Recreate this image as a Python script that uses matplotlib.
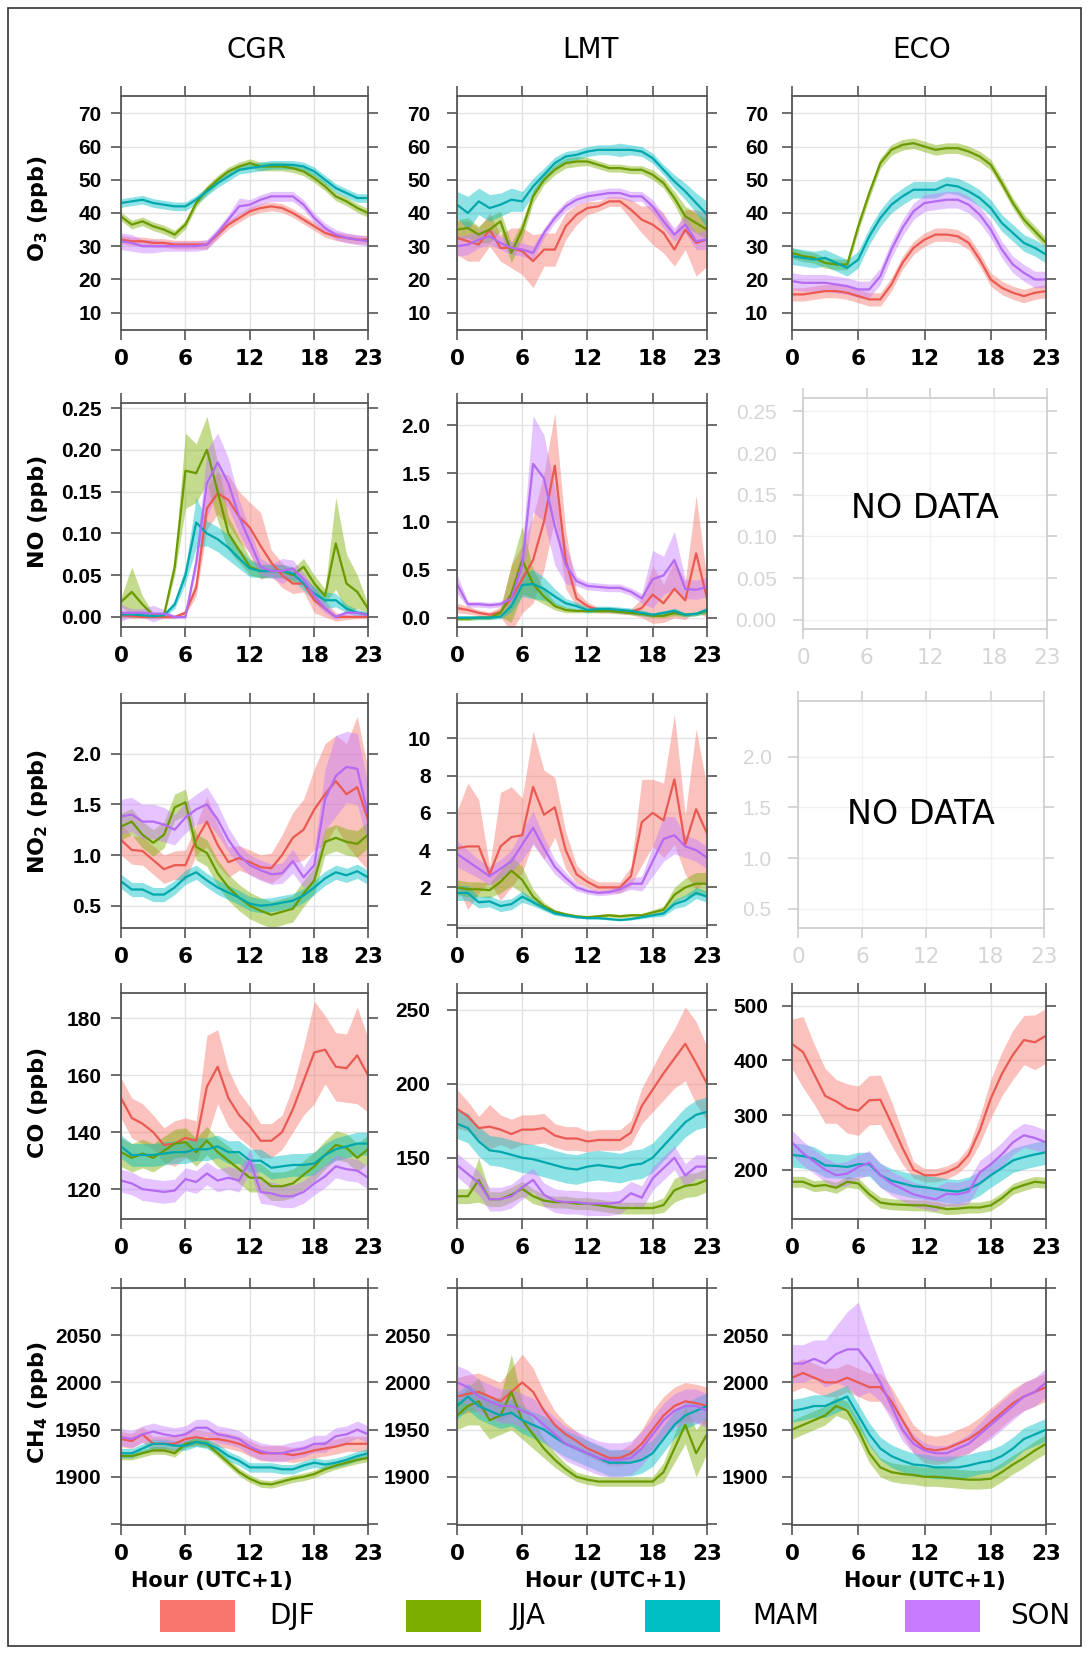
import numpy as np
import matplotlib
matplotlib.use('Agg')
import matplotlib.pyplot as plt
from matplotlib.patches import Rectangle

W, H = 1088, 1653

hours = list(range(24))
seasons = ['DJF', 'JJA', 'MAM', 'SON']
band_colors = {'DJF': '#F8766D', 'JJA': '#7CAE00', 'MAM': '#00BFC4', 'SON': '#C77CFF'}
line_colors = {'DJF': '#EA5A52', 'JJA': '#6A9A00', 'MAM': '#00A8AD', 'SON': '#B46AF2'}
sites = ['CGR', 'LMT', 'ECO']
species_labels = [r'$\mathbf{O_3}$ (ppb)', 'NO (ppb)', r'$\mathbf{NO_2}$ (ppb)', 'CO (ppb)', r'$\mathbf{CH_4}$ (ppb)']

# ---- O3 ----
cgr_o3 = {
    'DJF': [32, 31.5, 31.5, 31, 31, 30.5, 30.5, 30.5, 30.5, 33.5, 36.5, 38.5, 40.5, 41.5, 42, 41.5, 40, 38, 36, 34, 33, 32.5, 32, 32],
    'JJA': [39, 36.5, 37.5, 36, 35, 33.5, 36.5, 43, 47, 50, 52.5, 54, 55, 54, 54, 54, 53.5, 52.5, 50.5, 48, 45, 43.5, 41.5, 40],
    'MAM': [43, 43.5, 44, 43, 42.5, 42, 42, 44, 46.5, 49, 51, 53, 53.5, 54, 54.5, 54.5, 54.5, 54, 52.5, 50, 47.5, 46, 44.5, 44.5],
    'SON': [31.5, 31, 30, 30, 30, 30, 30, 30, 30.5, 34, 38, 42, 42.5, 44, 45, 45, 45, 42.5, 38.5, 35.5, 33.5, 32.5, 32, 31.5],
}
cgr_o3_err = {'DJF': 1.3, 'JJA': 1.3, 'MAM': 1.3,
              'SON': [2.5, 2.5, 2, 2, 1.5, 1.5, 1.5, 1.5, 1.5, 1.5, 1.5, 2.5, 1.5, 1.5, 1.5, 1.5, 1.5, 1.5, 1.5, 1.5, 1.5, 1.5, 1.5, 1.5]}

lmt_o3 = {
    'DJF': [32.5, 31.5, 30.5, 35, 29.5, 29.5, 28.5, 25.5, 29, 29, 36, 39.5, 41.5, 42, 43.5, 43.5, 41, 38, 36.5, 34, 29, 35, 31, 32],
    'JJA': [35, 35.5, 33.5, 35, 37.5, 28, 35, 45, 50, 53, 55, 55.5, 55.5, 54.5, 53.5, 53.5, 53, 53, 51.5, 49, 44.5, 39, 37, 35],
    'MAM': [42.5, 40, 43.5, 41.5, 42.5, 44, 43.5, 48, 51.5, 55, 57, 57.5, 58.5, 59, 59, 59, 59, 58.5, 56.5, 53, 49.5, 46.5, 43, 39.5],
    'SON': [30, 30.5, 32, 33, 31, 29.5, 29, 28, 34, 38.5, 42, 44, 45, 45.5, 46, 46, 45, 45, 42, 37.5, 33.5, 36.5, 31.5, 32],
}
lmt_o3_err = {
    'DJF': [5, 6, 5, 5, 4, 6, 7, 8, 5, 5, 4, 3, 2, 1.5, 1.5, 1.5, 3, 4, 6, 6, 5, 6, 10, 8],
    'JJA': [3, 3, 2.5, 4, 3, 3, 2.5, 2, 1.5, 1.5, 1.5, 1.5, 1.2, 1.2, 1.2, 1.2, 1.2, 1.2, 1.5, 1.5, 2, 3, 3, 3],
    'MAM': [4, 5, 4, 4, 3.5, 3.5, 3, 2.5, 2, 1.8, 1.5, 1.5, 1.5, 1.5, 1.5, 2, 1.5, 1.5, 1.5, 1.5, 2, 2.5, 3, 4],
    'SON': [3, 3, 2.5, 2.5, 2, 2, 2, 2, 1.5, 1.5, 1.5, 1.5, 1.5, 1.5, 1.5, 1.5, 1.5, 1.5, 2, 2, 2, 2.5, 2.5, 3],
}

eco_o3 = {
    'DJF': [15.5, 15.5, 16, 16.5, 16.5, 16, 15, 14, 14, 18.5, 25, 29.5, 32, 33.5, 33.5, 33, 31, 26, 20, 17.5, 16, 15, 16, 16.5],
    'JJA': [28, 27, 26.5, 25, 24.5, 24.5, 36, 46, 55, 59, 60.5, 61, 60, 59, 59.5, 59.5, 58.5, 57, 54.5, 49, 43, 38, 34.5, 31],
    'MAM': [27, 26.5, 26, 26.5, 25, 23.5, 26, 33, 38.5, 42.5, 45, 47, 47, 47, 48.5, 48, 46.5, 44.5, 41.5, 37, 34, 31, 29.5, 27.5],
    'SON': [19.5, 19, 19, 19, 18.5, 18, 17, 17, 21, 29, 35.5, 40.5, 43, 43.5, 44, 44, 42.5, 39.5, 35, 29, 24.5, 22, 20, 20],
}
eco_o3_err = {'DJF': 2, 'JJA': 1.6, 'MAM': 2.5, 'SON': 2.5}

# ---- NO ----
cgr_no = {
    'DJF': [0.002, 0.001, 0, 0, 0, 0, 0.005, 0.035, 0.13, 0.148, 0.14, 0.12, 0.107, 0.085, 0.065, 0.05, 0.04, 0.04, 0.02, 0.01, 0, 0, 0, 0],
    'JJA': [0.018, 0.03, 0.015, 0.002, 0.002, 0.06, 0.175, 0.172, 0.2, 0.15, 0.1, 0.08, 0.06, 0.055, 0.055, 0.055, 0.05, 0.06, 0.04, 0.025, 0.088, 0.04, 0.03, 0.01],
    'MAM': [0.003, 0.003, 0.002, 0.001, 0.002, 0.015, 0.05, 0.113, 0.1, 0.093, 0.083, 0.07, 0.058, 0.055, 0.055, 0.055, 0.052, 0.04, 0.028, 0.02, 0.02, 0.01, 0.005, 0.003],
    'SON': [0.005, 0.005, 0.005, 0.004, 0.004, 0, 0, 0.065, 0.16, 0.185, 0.16, 0.12, 0.09, 0.06, 0.055, 0.055, 0.058, 0.045, 0.025, 0.01, 0, 0.005, 0.005, 0.002],
}
cgr_no_err = {
    'DJF': [0.003, 0.003, 0.002, 0.002, 0.002, 0.002, 0.003, 0.01, 0.025, 0.025, 0.03, 0.03, 0.03, 0.04, 0.015, 0.015, 0.012, 0.01, 0.015, 0.01, 0.005, 0.003, 0.002, 0.002],
    'JJA': [0.005, 0.03, 0.01, 0.003, 0.003, 0.01, 0.045, 0.035, 0.04, 0.035, 0.02, 0.015, 0.01, 0.008, 0.008, 0.008, 0.008, 0.01, 0.01, 0.008, 0.055, 0.035, 0.02, 0.005],
    'MAM': [0.003, 0.003, 0.003, 0.002, 0.002, 0.005, 0.01, 0.03, 0.015, 0.015, 0.015, 0.012, 0.01, 0.008, 0.008, 0.008, 0.008, 0.008, 0.008, 0.01, 0.008, 0.005, 0.004, 0.003],
    'SON': [0.01, 0.005, 0.005, 0.01, 0.005, 0.002, 0.002, 0.01, 0.04, 0.035, 0.03, 0.02, 0.015, 0.01, 0.008, 0.015, 0.01, 0.008, 0.008, 0.005, 0.003, 0.003, 0.003, 0.003],
}

lmt_no = {
    'DJF': [0.1, 0.08, 0.05, 0.03, 0.06, 0.2, 0.4, 0.6, 1.0, 1.58, 0.6, 0.2, 0.12, 0.08, 0.08, 0.07, 0.06, 0.1, 0.24, 0.15, 0.3, 0.18, 0.67, 0.2],
    'JJA': [-0.01, -0.01, 0, 0, 0.05, 0.25, 0.6, 0.35, 0.22, 0.12, 0.08, 0.07, 0.07, 0.07, 0.07, 0.06, 0.05, 0.04, 0.02, 0.02, 0.05, 0.03, 0.04, 0.07],
    'MAM': [0, 0, 0, 0, 0.01, 0.12, 0.34, 0.35, 0.3, 0.22, 0.15, 0.12, 0.08, 0.09, 0.09, 0.08, 0.07, 0.05, 0.03, 0.05, 0.07, 0.03, 0.04, 0.08],
    'SON': [0.35, 0.14, 0.14, 0.13, 0.14, 0.2, 0.55, 1.6, 1.45, 0.95, 0.55, 0.38, 0.33, 0.32, 0.31, 0.31, 0.27, 0.2, 0.4, 0.44, 0.6, 0.3, 0.29, 0.32],
}
lmt_no_err = {
    'DJF': [0.05, 0.04, 0.03, 0.03, 0.05, 0.35, 0.35, 0.45, 0.5, 0.55, 0.3, 0.08, 0.04, 0.03, 0.03, 0.03, 0.03, 0.1, 0.3, 0.2, 0.3, 0.2, 0.6, 0.2],
    'JJA': [0.02, 0.02, 0.02, 0.02, 0.04, 0.3, 0.35, 0.15, 0.08, 0.04, 0.03, 0.02, 0.02, 0.02, 0.02, 0.02, 0.02, 0.02, 0.02, 0.02, 0.03, 0.02, 0.02, 0.03],
    'MAM': [0.02, 0.02, 0.02, 0.02, 0.02, 0.06, 0.12, 0.15, 0.12, 0.08, 0.05, 0.04, 0.03, 0.03, 0.03, 0.03, 0.03, 0.03, 0.02, 0.02, 0.03, 0.02, 0.02, 0.03],
    'SON': [0.1, 0.03, 0.03, 0.03, 0.03, 0.05, 0.2, 0.5, 0.45, 0.4, 0.2, 0.05, 0.04, 0.04, 0.04, 0.04, 0.04, 0.05, 0.3, 0.2, 0.3, 0.1, 0.1, 0.1],
}

# ---- NO2 ----
cgr_no2 = {
    'DJF': [1.15, 1.05, 1.04, 0.95, 0.86, 0.9, 0.9, 1.15, 1.33, 1.1, 0.93, 0.97, 0.93, 0.88, 0.87, 1.0, 1.17, 1.25, 1.45, 1.6, 1.73, 1.6, 1.67, 1.35],
    'JJA': [1.28, 1.33, 1.2, 1.12, 1.2, 1.47, 1.52, 1.08, 1.02, 0.82, 0.68, 0.58, 0.5, 0.45, 0.41, 0.44, 0.47, 0.62, 0.75, 1.13, 1.17, 1.13, 1.11, 1.2],
    'MAM': [0.74, 0.66, 0.66, 0.61, 0.61, 0.68, 0.78, 0.83, 0.75, 0.68, 0.63, 0.58, 0.52, 0.5, 0.51, 0.53, 0.55, 0.6, 0.68, 0.77, 0.83, 0.8, 0.84, 0.78],
    'SON': [1.38, 1.4, 1.33, 1.33, 1.3, 1.25, 1.37, 1.45, 1.5, 1.35, 1.15, 1.0, 0.9, 0.85, 0.81, 0.82, 0.94, 0.78, 0.9, 1.55, 1.78, 1.87, 1.85, 1.4],
}
cgr_no2_err = {
    'DJF': [0.15, 0.14, 0.14, 0.14, 0.14, 0.14, 0.15, 0.15, 0.25, 0.2, 0.15, 0.12, 0.12, 0.12, 0.15, 0.2, 0.25, 0.3, 0.4, 0.5, 0.45, 0.5, 0.7, 0.5],
    'JJA': 0.13, 'MAM': 0.07,
    'SON': [0.17, 0.17, 0.17, 0.17, 0.17, 0.15, 0.15, 0.15, 0.17, 0.15, 0.12, 0.1, 0.1, 0.1, 0.1, 0.1, 0.12, 0.1, 0.15, 0.3, 0.4, 0.35, 0.35, 0.3],
}

lmt_no2 = {
    'DJF': [4.1, 4.2, 4.2, 2.7, 4.2, 4.7, 4.8, 7.4, 5.9, 6.3, 4.0, 2.7, 2.3, 2.0, 2.0, 2.0, 2.6, 5.5, 6.0, 5.6, 7.8, 4.3, 6.2, 4.9],
    'JJA': [2.0, 1.9, 1.9, 1.85, 2.3, 2.9, 2.4, 1.5, 1.0, 0.7, 0.55, 0.45, 0.4, 0.45, 0.5, 0.45, 0.5, 0.5, 0.65, 0.8, 1.6, 2.0, 2.2, 2.2],
    'MAM': [1.7, 1.7, 1.2, 1.25, 1.0, 1.1, 1.5, 1.2, 0.9, 0.6, 0.5, 0.4, 0.35, 0.35, 0.3, 0.25, 0.3, 0.4, 0.5, 0.6, 1.1, 1.3, 1.7, 1.5],
    'SON': [3.8, 3.4, 3.0, 2.6, 3.0, 3.4, 4.3, 5.2, 4.1, 3.1, 2.5, 2.0, 1.8, 1.7, 1.75, 1.9, 2.2, 2.2, 3.4, 4.6, 4.8, 4.2, 4.0, 3.6],
}
lmt_no2_err = {
    'DJF': [2, 3.4, 2.5, 0.4, 2.9, 2.7, 2, 3, 2.4, 1.6, 1, 0.5, 0.3, 0.3, 0.3, 0.3, 0.5, 2.3, 1.8, 2, 3.5, 1.6, 4.3, 2.5],
    'JJA': [0.4, 0.4, 0.4, 0.4, 0.6, 0.8, 0.7, 0.4, 0.2, 0.1, 0.1, 0.05, 0.05, 0.1, 0.1, 0.1, 0.1, 0.1, 0.15, 0.2, 0.4, 0.5, 0.6, 0.6],
    'MAM': [0.4, 0.4, 0.3, 0.3, 0.3, 0.3, 0.3, 0.2, 0.15, 0.1, 0.08, 0.05, 0.05, 0.05, 0.05, 0.05, 0.05, 0.08, 0.1, 0.15, 0.25, 0.3, 0.3, 0.3],
    'SON': [0.7, 0.6, 0.5, 0.5, 0.5, 0.6, 0.8, 0.9, 0.6, 0.4, 0.3, 0.2, 0.15, 0.15, 0.15, 0.2, 0.3, 0.4, 0.8, 1.2, 1.0, 0.6, 0.6, 0.6],
}

# ---- CO ----
cgr_co = {
    'DJF': [152, 145, 143, 140, 135.5, 136, 138, 137, 156, 163, 152, 146, 142, 137, 137, 140, 148, 158, 168, 169, 163, 162.5, 167, 160],
    'JJA': [133, 131, 132.5, 131, 133.5, 136, 136.5, 133, 137, 133, 130, 127, 124, 124, 121, 121, 122, 125, 128, 132, 135.5, 134.5, 131, 134],
    'MAM': [135, 132, 132, 132, 132.5, 133, 133, 134, 134, 135, 133, 133, 130, 130, 127.5, 128, 128.5, 128.5, 129, 132, 134, 135, 136, 136],
    'SON': [123, 122, 120, 119.5, 119, 119.5, 123.5, 122.5, 125.5, 123, 124, 123, 130, 119, 118.5, 117.5, 117.5, 119, 122, 124.5, 128, 127, 126.5, 124],
}
cgr_co_err = {'DJF': [7, 7, 7, 6, 6, 8, 7, 7, 18, 13, 10, 8, 7, 6, 6, 6, 8, 12, 18, 12, 12, 12, 17, 13],
              'JJA': 5, 'MAM': 4, 'SON': 4}

lmt_co = {
    'DJF': [183, 178, 170, 171, 169, 166, 169, 169, 170, 165, 163, 163, 161, 162, 162, 162, 167, 185, 196, 207, 217, 227, 214, 200],
    'JJA': [124, 124, 135, 122, 122, 125, 129, 124, 121, 120, 120, 119, 119, 118, 117, 116, 116, 116, 116, 118, 128, 131, 132, 135],
    'MAM': [173, 170, 161, 155, 154, 152, 150, 149, 147, 145, 143, 142, 144, 145, 144, 143, 145, 146, 150, 158, 166, 174, 179, 181],
    'SON': [145, 139, 133, 122, 122, 124, 130, 135, 125, 121, 120, 120, 119, 119, 119, 120, 126, 123, 136, 143, 150, 138, 144, 144],
}
lmt_co_err = {'DJF': [13, 10, 8, 15, 10, 10, 10, 10, 10, 8, 8, 8, 7, 7, 7, 7, 8, 12, 15, 18, 20, 25, 28, 25],
              'JJA': [5, 5, 15, 5, 5, 5, 5, 5, 4, 4, 4, 4, 4, 4, 4, 4, 4, 4, 4, 5, 8, 8, 8, 8],
              'MAM': 10, 'SON': 8}

eco_co = {
    'DJF': [430, 415, 375, 335, 325, 312, 308, 327, 328, 285, 240, 200, 190, 190, 195, 205, 227, 272, 330, 375, 410, 437, 433, 445],
    'JJA': [178, 178, 170, 172, 167, 178, 175, 155, 140, 137, 136, 135, 135, 132, 128, 129, 131, 131, 135, 148, 165, 172, 178, 176],
    'MAM': [227, 225, 220, 208, 207, 205, 210, 210, 190, 180, 175, 170, 168, 165, 162, 160, 165, 175, 190, 203, 217, 223, 228, 232],
    'SON': [250, 230, 215, 200, 190, 193, 205, 213, 190, 175, 165, 155, 150, 146, 156, 155, 160, 195, 210, 228, 250, 263, 258, 250],
}
eco_co_err = {'DJF': [45, 65, 55, 50, 40, 45, 45, 45, 45, 40, 30, 15, 12, 12, 12, 12, 15, 25, 35, 40, 45, 45, 50, 50],
              'JJA': 10, 'MAM': 22, 'SON': 22}

# ---- CH4 ----
cgr_ch4 = {
    'DJF': [1940, 1938, 1945, 1935, 1935, 1935, 1940, 1942, 1940, 1940, 1938, 1935, 1930, 1925, 1925, 1925, 1923, 1925, 1928, 1930, 1932, 1935, 1935, 1935],
    'JJA': [1922, 1922, 1925, 1928, 1928, 1925, 1935, 1937, 1935, 1925, 1915, 1905, 1898, 1893, 1892, 1895, 1898, 1900, 1903, 1908, 1912, 1915, 1918, 1920],
    'MAM': [1925, 1925, 1930, 1935, 1935, 1933, 1933, 1937, 1935, 1930, 1922, 1917, 1910, 1910, 1910, 1908, 1908, 1912, 1915, 1913, 1915, 1918, 1922, 1925],
    'SON': [1942, 1940, 1945, 1948, 1945, 1943, 1945, 1952, 1952, 1945, 1943, 1940, 1932, 1927, 1925, 1925, 1928, 1930, 1935, 1935, 1943, 1945, 1950, 1945],
}
cgr_ch4_err = {'DJF': 8, 'JJA': 4, 'MAM': 5, 'SON': 9}

lmt_ch4 = {
    'DJF': [1985, 1988, 1990, 1985, 1980, 1990, 2000, 1990, 1970, 1955, 1945, 1938, 1930, 1925, 1920, 1920, 1925, 1935, 1950, 1965, 1975, 1980, 1978, 1975],
    'JJA': [1965, 1975, 1980, 1960, 1965, 1990, 1960, 1945, 1930, 1918, 1908, 1900, 1897, 1895, 1895, 1895, 1895, 1895, 1895, 1905, 1930, 1955, 1925, 1945],
    'MAM': [1975, 1985, 1975, 1970, 1965, 1968, 1960, 1955, 1950, 1942, 1935, 1930, 1925, 1920, 1915, 1915, 1915, 1918, 1925, 1940, 1955, 1965, 1970, 1975],
    'SON': [2000, 1995, 1985, 1980, 1975, 1975, 1970, 1965, 1955, 1945, 1935, 1930, 1925, 1920, 1918, 1918, 1920, 1930, 1945, 1960, 1970, 1975, 1975, 1970],
}
lmt_ch4_err = {'DJF': [20, 20, 20, 20, 20, 25, 30, 25, 20, 15, 12, 10, 8, 8, 8, 8, 10, 15, 20, 20, 20, 20, 20, 20],
               'JJA': [15, 20, 25, 20, 20, 40, 20, 15, 10, 8, 6, 5, 5, 5, 5, 5, 5, 5, 5, 10, 15, 20, 25, 20],
               'MAM': 14, 'SON': 18}

eco_ch4 = {
    'DJF': [2005, 2010, 2005, 2000, 2000, 2005, 2000, 1995, 1995, 1980, 1960, 1940, 1930, 1928, 1930, 1935, 1940, 1948, 1958, 1968, 1978, 1985, 1990, 1995],
    'JJA': [1950, 1955, 1960, 1965, 1975, 1970, 1950, 1925, 1910, 1905, 1903, 1902, 1900, 1900, 1899, 1898, 1897, 1897, 1898, 1905, 1913, 1920, 1928, 1935],
    'MAM': [1970, 1972, 1975, 1975, 1980, 1985, 1965, 1945, 1930, 1922, 1917, 1913, 1912, 1910, 1910, 1910, 1912, 1915, 1917, 1922, 1930, 1940, 1945, 1950],
    'SON': [2020, 2020, 2025, 2020, 2030, 2035, 2035, 2020, 2000, 1975, 1950, 1935, 1928, 1925, 1925, 1930, 1935, 1945, 1955, 1965, 1975, 1985, 1990, 2000],
}
eco_ch4_err = {'DJF': 15, 'JJA': 10, 'MAM': 12,
               'SON': [20, 20, 20, 25, 30, 40, 50, 30, 20, 15, 12, 10, 8, 8, 8, 8, 10, 12, 15, 15, 15, 15, 15, 15]}

legend_labels = ['DJF', 'JJA', 'MAM', 'SON']


def px_rect(l, t, r, b):
    return [l / W, 1 - b / H, (r - l) / W, (b - t) / H]


def style_axes(ax, yticks, ylabels, ylim, ypad, faint=False):
    col = '#cfcfcf' if faint else '#555555'
    txt = '#d5d5d5' if faint else 'black'
    wt = 'normal' if faint else 'bold'
    ax.set_xlim(0, 23)
    ax.set_ylim(*ylim)
    ax.set_xticks([0, 6, 12, 18, 23])
    ax.set_xticklabels(['0', '6', '12', '18', '23'], fontsize=15.5, fontweight=wt, color=txt)
    ax.set_yticks(yticks)
    ax.set_yticklabels(ylabels, fontsize=15, fontweight=wt, color=txt, family='Liberation Sans')
    ax.grid(True, color='#f0f0f0' if faint else '#e3e3e3', linewidth=1.0)
    ax.set_axisbelow(True)
    for s in ax.spines.values():
        s.set_color(col)
        s.set_linewidth(1.3)
    ax.tick_params(axis='both', direction='out', length=7, width=1.2, color=col,
                   top=True, right=True, labeltop=False, labelright=False)
    ax.tick_params(axis='y', pad=ypad)
    ax.tick_params(axis='x', pad=7)


def draw_panel(ax, means, errs):
    x = np.array(hours)
    for s in seasons:
        m = np.array(means[s], dtype=float)
        e = np.array(errs[s], dtype=float) * np.ones_like(m)
        ax.fill_between(x, m - e, m + e, color=band_colors[s], alpha=0.45, linewidth=0)
        ax.plot(x, m, color=line_colors[s], linewidth=1.6)


fig = plt.figure(figsize=(W / 100, H / 100), dpi=100)

# outer frame
fig.patches.append(Rectangle((8 / W, 1 - 1646 / H), 1073 / W, 1638 / H, transform=fig.transFigure,
                             fill=False, edgecolor='#333333', linewidth=1.2))

col_l = [121, 457, 792]
col_r = [368, 707, 1046]
rows_tb = [(96, 330), (403, 627), (703, 928), (993, 1219), (1288, 1525)]
ypads = [7, 12, 10]

panels = [
    [(cgr_o3, cgr_o3_err), (lmt_o3, lmt_o3_err), (eco_o3, eco_o3_err)],
    [(cgr_no, cgr_no_err), (lmt_no, lmt_no_err), None],
    [(cgr_no2, cgr_no2_err), (lmt_no2, lmt_no2_err), None],
    [(cgr_co, cgr_co_err), (lmt_co, lmt_co_err), (eco_co, eco_co_err)],
    [(cgr_ch4, cgr_ch4_err), (lmt_ch4, lmt_ch4_err), (eco_ch4, eco_ch4_err)],
]

o3_ticks = [10, 20, 30, 40, 50, 60, 70]
ch4_ticks = [1850, 1900, 1950, 2000, 2050, 2100]
ch4_lbls = ['', '1900', '1950', '2000', '2050', '']
axis_cfg = [
    [(o3_ticks, [str(v) for v in o3_ticks], (4.8, 75.2))] * 3,
    [([0, 0.05, 0.1, 0.15, 0.2, 0.25], ['0.00', '0.05', '0.10', '0.15', '0.20', '0.25'], (-0.012, 0.256)),
     ([0, 0.5, 1.0, 1.5, 2.0], ['0.0', '0.5', '1.0', '1.5', '2.0'], (-0.097, 2.233)),
     ([0, 0.05, 0.1, 0.15, 0.2, 0.25], ['0.00', '0.05', '0.10', '0.15', '0.20', '0.25'], (-0.011, 0.266))],
    [([0.5, 1.0, 1.5, 2.0], ['0.5', '1.0', '1.5', '2.0'], (0.28, 2.5)),
     ([0, 2, 4, 6, 8, 10], ['', '2', '4', '6', '8', '10'], (-0.18, 11.9)),
     ([0.5, 1.0, 1.5, 2.0], ['0.5', '1.0', '1.5', '2.0'], (0.31, 2.55))],
    [([120, 140, 160, 180], ['120', '140', '160', '180'], (109.5, 188.9)),
     ([150, 200, 250], ['150', '200', '250'], (108.6, 261.3)),
     ([200, 300, 400, 500], ['200', '300', '400', '500'], (110, 523))],
    [(ch4_ticks, ch4_lbls, (1849, 2100))] * 3,
]
faint_rects = {1: (803, 398, 1047, 629), 2: (798, 701, 1044, 928)}
nodata_y = {1: 0.52, 2: 0.5}

for r in range(5):
    t, b = rows_tb[r]
    for c in range(3):
        yt, yl, ylim = axis_cfg[r][c]
        if panels[r][c] is None:
            ax = fig.add_axes(px_rect(*faint_rects[r]))
            style_axes(ax, yt, yl, ylim, 12, faint=True)
            ax.text(0.5, nodata_y[r], 'NO DATA', transform=ax.transAxes,
                    ha='center', va='center', fontsize=24, color='black')
            continue
        ax = fig.add_axes(px_rect(col_l[c], t, col_r[c], b))
        draw_panel(ax, *panels[r][c])
        style_axes(ax, yt, yl, ylim, ypads[c])
    fig.text(38 / W, 1 - ((t + b) / 2 - 4) / H, species_labels[r], rotation=90, ha='center', va='center',
             fontsize=16, fontweight='bold')

# column titles
for name, xc in zip(sites, [256, 590, 922]):
    fig.text(xc / W, 1 - 50 / H, name, ha='center', va='center', fontsize=20)

# hour labels
for xc in [212, 606, 925]:
    fig.text(xc / W, 1 - 1581 / H, 'Hour (UTC+1)', ha='center', va='center', fontsize=15, fontweight='bold')

# legend
patch_x = [160, 406, 645, 905]
text_x = [269, 510, 752, 1010]
for s, px, tx in zip(legend_labels, patch_x, text_x):
    fig.patches.append(Rectangle((px / W, 1 - 1632 / H), 75 / W, 32 / H, transform=fig.transFigure,
                                 facecolor=band_colors[s], edgecolor='none'))
    fig.text(tx / W, 1 - 1616 / H, s, ha='left', va='center', fontsize=20)

plt.savefig('out.png', dpi=100)
plt.close()
